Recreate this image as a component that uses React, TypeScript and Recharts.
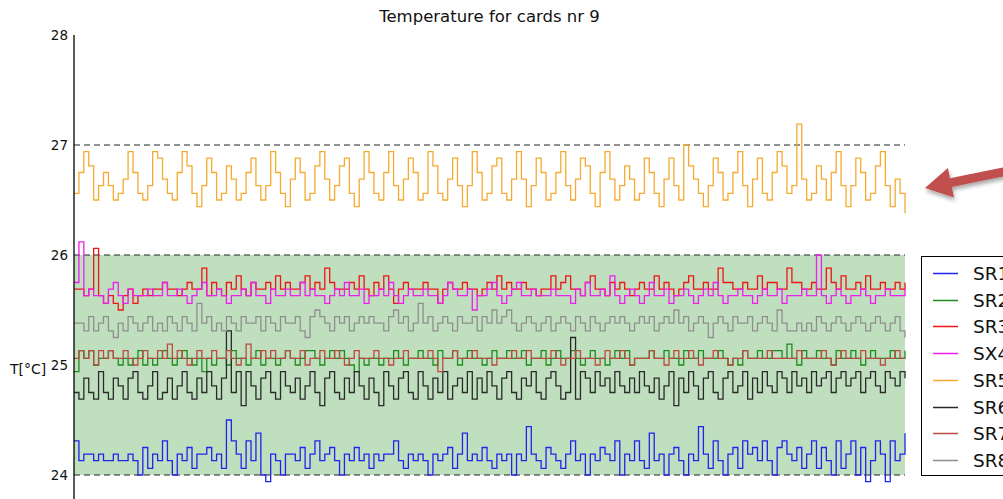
import { LineChart, Line, XAxis, YAxis, ReferenceArea, ReferenceLine } from 'recharts';

// readings every ~5 px of the original plot, in °C (sensor steps of 1/16 °C)
const SR1 = [
  24.31, 24.13, 24.19, 24.19, 24.13, 24.19, 24.13, 24.13, 24.19, 24.13,
  24.13, 24.19, 24.13, 24.0, 24.25, 24.06, 24.19, 24.13, 24.31, 24.13,
  24.0, 24.19, 24.13, 24.25, 24.06, 24.19, 24.19, 24.25, 24.13, 24.19,
  24.06, 24.5, 24.31, 24.19, 24.06, 24.31, 24.13, 24.38, 24.0, 23.94,
  24.19, 24.13, 24.0, 24.19, 24.19, 24.13, 24.25, 24.06, 24.19, 24.31,
  24.13, 24.19, 24.25, 24.13, 24.0, 24.19, 24.13, 24.25, 24.13, 24.19,
  24.06, 24.19, 24.13, 24.19, 24.19, 24.31, 24.13, 24.06, 24.19, 24.13,
  24.19, 24.13, 24.0, 24.19, 24.13, 24.19, 24.25, 24.06, 24.19, 24.38,
  24.13, 24.19, 24.13, 24.25, 24.13, 24.06, 24.19, 24.13, 24.19, 24.0,
  24.19, 24.13, 24.44, 24.19, 24.13, 24.06, 24.25, 24.19, 24.13, 24.06,
  24.19, 24.31, 24.13, 24.19, 24.0, 24.19, 24.13, 24.25, 24.19, 24.13,
  24.31, 24.0, 24.19, 24.13, 24.31, 24.13, 24.06, 24.38, 24.13, 24.19,
  24.0, 24.19, 24.25, 24.13, 24.0, 24.19, 24.13, 24.44, 24.19, 24.06,
  24.31, 24.13, 24.0, 24.19, 24.25, 24.06, 24.31, 24.19, 24.25, 24.13,
  24.31, 24.13, 24.0, 24.25, 24.31, 24.19, 24.13, 24.25, 24.06, 24.19,
  24.31, 24.06, 24.25, 24.13, 24.0, 24.31, 24.06, 24.19, 24.31, 24.0,
  24.25, 23.94, 24.13, 24.31, 24.19, 23.94, 24.31, 24.13, 24.19, 24.38,
];

const SR2 = [
  24.94, 25.13, 25.06, 25.13, 25.0, 25.06, 25.06, 25.13, 25.06, 25.0,
  25.06, 25.0, 25.06, 25.13, 25.0, 25.06, 25.0, 25.06, 25.13, 25.06,
  25.0, 25.06, 25.13, 25.06, 25.0, 25.06, 24.94, 25.06, 25.0, 25.06,
  25.06, 25.0, 25.13, 25.06, 25.06, 25.0, 25.06, 25.13, 25.0, 25.06,
  25.06, 25.0, 25.06, 25.13, 25.06, 25.0, 25.06, 25.13, 25.13, 25.06,
  25.0, 25.06, 25.13, 25.06, 25.13, 25.06, 25.0, 24.94, 25.06, 25.0,
  25.06, 25.06, 25.0, 25.06, 25.06, 25.13, 25.06, 25.0, 25.06, 25.06,
  25.13, 25.06, 25.06, 25.0, 25.13, 25.06, 25.06, 25.13, 25.0, 25.06,
  25.13, 25.06, 25.06, 25.0, 25.06, 25.13, 25.06, 25.06, 25.13, 25.06,
  25.06, 25.13, 25.0, 25.06, 25.06, 25.13, 25.0, 25.06, 25.13, 25.06,
  25.06, 25.13, 25.06, 25.0, 25.06, 25.13, 25.06, 25.06, 25.0, 25.06,
  25.13, 25.06, 25.13, 25.0, 25.06, 25.06, 25.06, 25.13, 25.06, 25.06,
  25.13, 25.06, 25.06, 25.0, 25.13, 25.06, 25.06, 25.13, 25.06, 25.06,
  25.06, 25.13, 25.06, 25.0, 25.06, 25.0, 25.13, 25.06, 25.06, 25.13,
  25.06, 25.06, 25.13, 25.13, 25.06, 25.19, 25.06, 25.0, 25.13, 25.06,
  25.06, 25.13, 25.06, 25.06, 25.0, 25.13, 25.06, 25.06, 25.13, 25.06,
  25.0, 25.06, 25.13, 25.06, 25.06, 25.06, 25.13, 25.06, 25.06, 25.13,
];

const SR3 = [
  25.69, 25.69, 25.63, 25.69, 26.06, 25.63, 25.56, 25.63, 25.56, 25.5,
  25.63, 25.69, 25.56, 25.63, 25.69, 25.63, 25.69, 25.69, 25.75, 25.69,
  25.69, 25.63, 25.69, 25.75, 25.69, 25.69, 25.88, 25.63, 25.75, 25.69,
  25.63, 25.75, 25.69, 25.81, 25.69, 25.63, 25.75, 25.69, 25.69, 25.75,
  25.69, 25.81, 25.69, 25.75, 25.69, 25.69, 25.75, 25.81, 25.69, 25.75,
  25.69, 25.88, 25.75, 25.69, 25.69, 25.69, 25.75, 25.69, 25.81, 25.69,
  25.63, 25.75, 25.69, 25.81, 25.69, 25.56, 25.69, 25.75, 25.69, 25.69,
  25.69, 25.75, 25.69, 25.69, 25.56, 25.69, 25.75, 25.69, 25.69, 25.75,
  25.69, 25.69, 25.63, 25.69, 25.75, 25.69, 25.81, 25.69, 25.75, 25.69,
  25.69, 25.75, 25.69, 25.69, 25.63, 25.69, 25.69, 25.81, 25.69, 25.75,
  25.81, 25.69, 25.69, 25.63, 25.75, 25.81, 25.69, 25.69, 25.63, 25.75,
  25.69, 25.75, 25.69, 25.63, 25.69, 25.75, 25.69, 25.69, 25.81, 25.69,
  25.75, 25.69, 25.63, 25.69, 25.75, 25.81, 25.69, 25.69, 25.75, 25.69,
  25.69, 25.88, 25.75, 25.75, 25.69, 25.69, 25.75, 25.69, 25.69, 25.81,
  25.69, 25.75, 25.75, 25.69, 25.69, 25.88, 25.75, 25.75, 25.69, 25.69,
  25.75, 25.69, 25.69, 25.88, 25.75, 25.69, 25.81, 25.69, 25.69, 25.75,
  25.69, 25.81, 25.69, 25.69, 25.75, 25.69, 25.69, 25.75, 25.69, 25.75,
];

const SX4 = [
  25.75, 26.12, 25.63, 25.69, 25.63, 25.63, 25.56, 25.69, 25.75, 25.63,
  25.56, 25.69, 25.63, 25.63, 25.63, 25.69, 25.63, 25.63, 25.75, 25.63,
  25.63, 25.69, 25.63, 25.56, 25.63, 25.69, 25.75, 25.63, 25.63, 25.69,
  25.63, 25.56, 25.63, 25.63, 25.69, 25.63, 25.75, 25.63, 25.63, 25.56,
  25.69, 25.63, 25.63, 25.69, 25.63, 25.63, 25.75, 25.63, 25.69, 25.63,
  25.63, 25.56, 25.63, 25.69, 25.63, 25.75, 25.63, 25.63, 25.69, 25.56,
  25.63, 25.63, 25.69, 25.63, 25.75, 25.63, 25.56, 25.63, 25.69, 25.63,
  25.63, 25.69, 25.63, 25.63, 25.56, 25.63, 25.75, 25.69, 25.63, 25.63,
  25.69, 25.5, 25.63, 25.63, 25.69, 25.75, 25.63, 25.56, 25.63, 25.69,
  25.75, 25.63, 25.63, 25.69, 25.63, 25.63, 25.63, 25.69, 25.63, 25.63,
  25.63, 25.56, 25.69, 25.63, 25.75, 25.63, 25.63, 25.69, 25.63, 25.81,
  25.63, 25.56, 25.63, 25.69, 25.63, 25.56, 25.63, 25.75, 25.63, 25.63,
  25.69, 25.56, 25.63, 25.63, 25.69, 25.63, 25.56, 25.63, 25.69, 25.63,
  25.75, 25.63, 25.56, 25.63, 25.63, 25.69, 25.63, 25.63, 25.56, 25.63,
  25.69, 25.63, 25.63, 25.69, 25.56, 25.63, 25.63, 25.63, 25.69, 25.63,
  25.63, 26.0, 25.63, 25.56, 25.63, 25.69, 25.63, 25.56, 25.63, 25.63,
  25.69, 25.63, 25.56, 25.63, 25.63, 25.69, 25.63, 25.63, 25.63, 25.69,
];

const SR5 = [
  26.56, 26.75, 26.94, 26.81, 26.5, 26.63, 26.75, 26.63, 26.5, 26.56,
  26.69, 26.94, 26.75, 26.56, 26.5, 26.63, 26.94, 26.88, 26.69, 26.56,
  26.5, 26.75, 26.94, 26.81, 26.56, 26.44, 26.63, 26.88, 26.75, 26.5,
  26.56, 26.81, 26.69, 26.5, 26.56, 26.75, 26.88, 26.63, 26.5, 26.63,
  26.94, 26.75, 26.56, 26.44, 26.69, 26.88, 26.75, 26.5, 26.56, 26.81,
  26.94, 26.69, 26.5, 26.63, 26.81, 26.88, 26.56, 26.44, 26.69, 26.94,
  26.75, 26.56, 26.5, 26.75, 26.94, 26.63, 26.5, 26.69, 26.88, 26.75,
  26.5, 26.56, 26.94, 26.81, 26.56, 26.5, 26.69, 26.88, 26.63, 26.44,
  26.63, 26.94, 26.75, 26.5, 26.56, 26.81, 26.88, 26.56, 26.5, 26.69,
  26.94, 26.69, 26.44, 26.63, 26.88, 26.75, 26.5, 26.56, 26.75, 26.94,
  26.63, 26.5, 26.69, 26.88, 26.81, 26.56, 26.44, 26.75, 26.94, 26.69,
  26.5, 26.63, 26.81, 26.69, 26.5, 26.56, 26.88, 26.75, 26.56, 26.44,
  26.69, 26.88, 26.63, 26.5, 27.0, 26.81, 26.69, 26.56, 26.44, 26.63,
  26.88, 26.75, 26.5, 26.56, 26.75, 26.94, 26.63, 26.44, 26.69, 26.88,
  26.56, 26.5, 26.75, 26.94, 26.81, 26.56, 26.63, 27.19, 26.69, 26.5,
  26.56, 26.81, 26.69, 26.5, 26.75, 26.94, 26.63, 26.44, 26.63, 26.88,
  26.75, 26.5, 26.56, 26.81, 26.94, 26.63, 26.44, 26.69, 26.56, 26.38,
];

const SR6 = [
  24.75, 24.69, 24.88, 24.75, 24.69, 24.94, 24.75, 24.69, 24.88, 24.81,
  24.69, 24.88, 24.94, 24.75, 24.69, 24.81, 24.94, 24.69, 24.75, 24.88,
  24.69, 24.81, 24.94, 24.75, 24.69, 24.88, 24.75, 24.94, 24.81, 24.69,
  24.88, 25.31, 24.75, 24.94, 24.63, 24.94, 24.81, 24.69, 24.88, 24.94,
  24.75, 24.69, 24.94, 24.81, 24.75, 24.88, 24.69, 24.81, 24.94, 24.75,
  24.63, 24.88, 24.94, 24.75, 24.69, 24.88, 24.75, 24.94, 24.81, 24.69,
  24.88, 24.75, 24.63, 24.94, 24.81, 24.69, 24.88, 24.94, 24.75, 24.69,
  24.94, 24.81, 24.69, 24.88, 24.75, 24.94, 24.69, 24.81, 24.88, 24.75,
  24.94, 24.69, 24.88, 24.75, 24.94, 24.81, 24.69, 24.88, 24.94, 24.75,
  24.69, 24.88, 24.81, 24.94, 24.75, 24.69, 24.88, 24.94, 24.81, 24.69,
  24.75, 25.25, 24.69, 24.94, 24.88, 24.75, 24.94, 24.81, 24.88, 24.75,
  24.94, 24.81, 24.75, 24.88, 24.75, 24.94, 24.81, 24.75, 24.88, 24.69,
  24.81, 24.94, 24.63, 24.88, 24.75, 24.94, 24.81, 24.69, 24.88, 24.94,
  24.75, 24.69, 24.88, 24.94, 24.75, 24.81, 24.94, 24.69, 24.88, 24.75,
  24.94, 24.81, 24.75, 24.94, 24.88, 24.75, 24.94, 24.81, 24.88, 24.75,
  24.94, 24.81, 24.88, 24.94, 24.75, 24.88, 24.94, 24.81, 24.88, 24.94,
  24.75, 24.88, 24.94, 24.81, 24.75, 24.94, 24.88, 24.81, 24.94, 24.88,
];

const SR7 = [
  25.06, 25.13, 25.06, 25.13, 25.0, 25.13, 25.06, 25.13, 25.06, 25.06,
  25.13, 25.06, 25.0, 25.06, 25.13, 25.06, 25.06, 25.13, 25.06, 25.19,
  25.06, 25.13, 25.06, 25.0, 25.06, 25.13, 25.06, 25.06, 25.13, 25.06,
  25.06, 25.13, 25.06, 25.0, 25.06, 25.19, 25.06, 25.06, 25.13, 25.06,
  25.13, 25.06, 25.06, 25.13, 25.06, 25.06, 25.13, 25.0, 25.06, 25.06,
  25.13, 25.06, 25.06, 25.13, 25.06, 25.0, 25.06, 25.13, 25.06, 25.06,
  25.06, 25.13, 25.06, 25.06, 25.0, 25.06, 25.06, 25.13, 25.06, 25.06,
  25.06, 25.06, 25.13, 25.06, 24.94, 25.06, 25.06, 25.13, 25.06, 25.06,
  25.06, 25.13, 25.06, 25.06, 25.06, 25.0, 25.06, 25.06, 25.06, 25.13,
  25.06, 25.06, 25.13, 25.06, 25.06, 25.06, 25.06, 25.13, 25.06, 25.0,
  25.06, 25.06, 25.13, 25.06, 25.06, 25.06, 25.0, 25.06, 25.13, 25.06,
  25.06, 25.13, 25.06, 25.0, 25.06, 25.06, 25.06, 25.13, 25.06, 25.06,
  25.0, 25.06, 25.13, 25.06, 25.06, 25.13, 25.06, 25.0, 25.06, 25.06,
  25.13, 25.06, 25.06, 25.0, 25.06, 25.06, 25.13, 25.06, 25.06, 25.06,
  25.06, 25.13, 25.06, 25.06, 25.06, 25.06, 25.06, 25.13, 25.06, 25.06,
  25.06, 25.06, 25.13, 25.06, 25.0, 25.06, 25.13, 25.06, 25.06, 25.06,
  25.13, 25.06, 25.06, 25.06, 25.0, 25.06, 25.06, 25.13, 25.06, 25.06,
];

const SR8 = [
  25.38, 25.38, 25.31, 25.44, 25.31, 25.38, 25.44, 25.31, 25.25, 25.38,
  25.31, 25.44, 25.38, 25.31, 25.38, 25.44, 25.31, 25.38, 25.31, 25.44,
  25.38, 25.31, 25.44, 25.38, 25.31, 25.56, 25.38, 25.44, 25.31, 25.38,
  25.31, 25.44, 25.38, 25.31, 25.44, 25.38, 25.38, 25.44, 25.31, 25.44,
  25.38, 25.31, 25.44, 25.38, 25.38, 25.44, 25.31, 25.25, 25.44, 25.5,
  25.44, 25.38, 25.31, 25.44, 25.38, 25.44, 25.31, 25.38, 25.44, 25.38,
  25.44, 25.38, 25.38, 25.31, 25.44, 25.5, 25.38, 25.44, 25.31, 25.38,
  25.56, 25.38, 25.44, 25.31, 25.38, 25.44, 25.38, 25.31, 25.44, 25.38,
  25.38, 25.44, 25.31, 25.44, 25.38, 25.5, 25.38, 25.44, 25.5, 25.38,
  25.31, 25.38, 25.44, 25.38, 25.31, 25.38, 25.44, 25.31, 25.38, 25.44,
  25.38, 25.31, 25.44, 25.38, 25.31, 25.44, 25.38, 25.31, 25.38, 25.44,
  25.38, 25.44, 25.38, 25.31, 25.38, 25.44, 25.38, 25.44, 25.31, 25.38,
  25.44, 25.38, 25.5, 25.38, 25.44, 25.31, 25.38, 25.44, 25.38, 25.25,
  25.38, 25.44, 25.38, 25.31, 25.44, 25.38, 25.38, 25.44, 25.31, 25.38,
  25.44, 25.38, 25.31, 25.5, 25.38, 25.31, 25.31, 25.38, 25.31, 25.38,
  25.31, 25.44, 25.38, 25.31, 25.38, 25.44, 25.38, 25.31, 25.38, 25.44,
  25.38, 25.31, 25.38, 25.44, 25.38, 25.31, 25.38, 25.44, 25.31, 25.25,
];

const Y_TICKS = [24, 25, 26, 27, 28];
const DASHED_LEVELS = [24, 26, 27];
const BAND = [24, 26];

const SERIES = [
  { key: 'SR1', color: '#2323ee', values: SR1 },
  { key: 'SR2', color: '#1e8c1e', values: SR2 },
  { key: 'SR3', color: '#f01414', values: SR3 },
  { key: 'SX4', color: '#ec1fec', values: SX4 },
  { key: 'SR5', color: '#f6aa30', values: SR5 },
  { key: 'SR6', color: '#2a2a2a', values: SR6 },
  { key: 'SR7', color: '#bb4a40', values: SR7 },
  { key: 'SR8', color: '#8f8f8f', values: SR8 },
];

const data = SR1.map((_, i) => {
  const row: Record<string, number> = { i };
  SERIES.forEach((s) => { row[s.key] = s.values[i]; });
  return row;
});
const last = data.length - 1;

const FONT = '"DejaVu Sans", sans-serif';

function LegendBox() {
  return (
    <div style={{ position: 'absolute', left: 921, top: 256, width: 130, height: 220, border: '1px solid #000', background: '#fff', boxSizing: 'border-box' }}>
      <svg style={{ position: 'absolute', left: 0, top: 0 }} width={130} height={220}>
        {SERIES.map((s, k) => {
          const cy = Math.round(16 + k * 26.7) + 0.5;
          return (
            <g key={s.key}>
              <line x1={11} x2={36} y1={cy} y2={cy} stroke={s.color} strokeWidth={1.5} />
              <text x={51} y={cy + 6.5} fontSize={18.5} fontFamily={FONT} fill="#111">{s.key}</text>
            </g>
          );
        })}
      </svg>
    </div>
  );
}

export default function App() {
  return (
    <div style={{ position: 'fixed', left: 0, top: 0, width: 1003, height: 499, overflow: 'hidden', background: '#fff', fontFamily: FONT }}>
      <div style={{ position: 'absolute', left: 74, width: 831, top: 7, textAlign: 'center', fontSize: 16.5, color: '#111' }}>
        Temperature for cards nr 9
      </div>
      <div style={{ position: 'absolute', left: 10, top: 361, fontSize: 14, color: '#111' }}>T[°C]</div>

      <LineChart width={1003} height={620} data={data} margin={{ top: 35, right: 98, left: 0, bottom: 35 }}>
        <XAxis dataKey="i" type="number" domain={[0, last]} orientation="top" height={0} tick={false} tickLine={false} axisLine={{ stroke: '#000', strokeWidth: 1.3 }} />
        <YAxis domain={[23, 28]} ticks={Y_TICKS} width={74} tickSize={4} tickMargin={2} tickLine={false} axisLine={{ stroke: '#000', strokeWidth: 1.3 }} tick={{ fill: '#111', fontSize: 13.5, fontFamily: FONT }} />
        <YAxis yAxisId="frame" orientation="right" domain={[23, 28]} width={0} tick={false} tickLine={false} axisLine={{ stroke: '#000', strokeWidth: 1.3 }} />
        <ReferenceArea y1={BAND[0]} y2={BAND[1]} fill="#bfdfbf" fillOpacity={1} stroke="none" />
        {DASHED_LEVELS.map((v) => (
          <ReferenceLine key={v} y={v} stroke="#222" strokeWidth={1} strokeDasharray="6 4" />
        ))}
        {SERIES.map((s) => (
          <Line key={s.key} type="stepAfter" dataKey={s.key} stroke={s.color} strokeWidth={1.3} dot={false} isAnimationActive={false} />
        ))}
      </LineChart>

      <LegendBox />

      <svg style={{ position: 'absolute', left: 900, top: 140 }} width={103} height={80}>
        <defs>
          <filter id="sh" x="-20%" y="-30%" width="140%" height="180%">
            <feDropShadow dx="1" dy="3" stdDeviation="2" floodColor="#000" floodOpacity="0.35" />
          </filter>
        </defs>
        <polygon points="25,48 54,57.5 51.8,47 114.5,34.2 112.7,25.4 50,38.2 47.9,28" fill="#c0504d" filter="url(#sh)" />
      </svg>
    </div>
  );
}
